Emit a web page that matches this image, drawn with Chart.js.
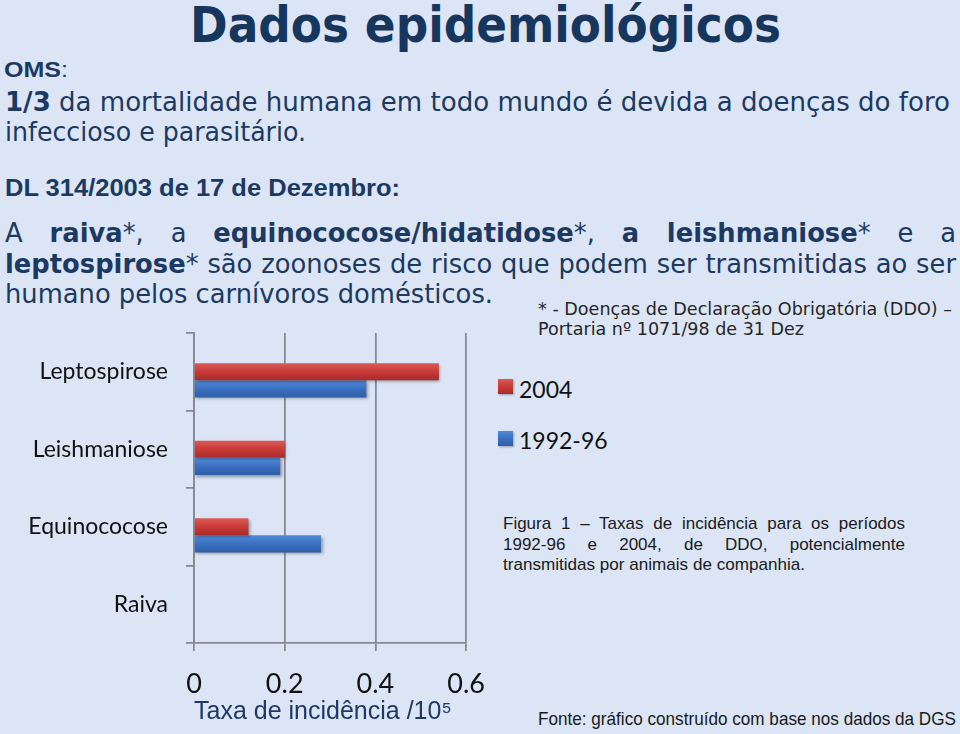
<!DOCTYPE html>
<html lang="pt">
<head>
<meta charset="utf-8">
<title>Dados epidemiológicos</title>
<script src="https://cdn.jsdelivr.net/npm/chart.js@4.4.1/dist/chart.umd.min.js"></script>
<style>
html,body{margin:0;padding:0}
body{width:960px;height:734px;background:#dbe5f5;position:relative;overflow:hidden;color:#1c3961}
.t{position:absolute;left:0;top:0;white-space:nowrap;line-height:1;transform-origin:0 0}
.dv{font-family:"DejaVu Sans",Verdana,sans-serif}
.ar{font-family:"Liberation Sans",Arial,sans-serif}
.j{white-space:normal;text-align:justify;text-align-last:justify}
#title{font-size:50px;font-weight:bold;color:#17365d}
.body26{font-size:26px}
.foot{font-size:17px;color:#262626}
.cap{font-size:17px;color:#1a1a1a}
.src{font-size:19px;color:#1a1a1a}
#chartBox{position:absolute;left:0;top:300px;width:502px;height:434px}
.lg-box{position:absolute;width:15px;height:15px;box-shadow:1px 1px 2px rgba(0,0,0,0.3)}
.lg-txt{position:absolute;font-family:Lato,sans-serif;font-size:23px;color:#111;line-height:1;white-space:nowrap}
</style>
</head>
<body>

<div id="title" class="t dv" data-x="190" data-b="42" data-w="591">Dados epidemiológicos</div>
<div class="t ar" style="font-size:22px" data-x="4" data-b="77" data-w="64"><b>OMS</b>:</div>
<div class="t dv body26" data-x="5" data-b="111" data-w="945"><b>1/3</b> da mortalidade humana em todo mundo é devida a doenças do foro</div>
<div class="t dv body26" data-x="5" data-b="141" data-w="301">infeccioso e parasitário.</div>
<div class="t ar" style="font-size:23px;font-weight:bold" data-x="5" data-b="196" data-w="395">DL 314/2003 de 17 de Dezembro:</div>
<div id="ref3" class="t dv body26" data-x="5" data-b="303" data-w="488">humano pelos carnívoros domésticos.</div>
<div class="t dv body26 j" data-x="5" data-b="242" data-w="951" data-j="1" data-sref="ref3">A <b>raiva</b>*, a <b>equinococose/hidatidose</b>*, <b>a leishmaniose</b>* e a</div>
<div class="t dv body26 j" data-x="5" data-b="273" data-w="951" data-j="1" data-sref="ref3"><b>leptospirose</b>* são zoonoses de risco que podem ser transmitidas ao ser</div>

<div class="t dv foot" data-x="538" data-b="315" data-w="414">* - Doenças de Declaração Obrigatória (DDO) –</div>
<div class="t dv foot" data-x="538" data-b="335" data-w="266">Portaria nº 1071/98 de 31 Dez</div>

<div class="t ar cap j" data-x="503" data-b="529" data-w="402" data-j="1">Figura 1 – Taxas de incidência para os períodos</div>
<div class="t ar cap j" data-x="503" data-b="550" data-w="402" data-j="1">1992-96 e 2004, de DDO, potencialmente</div>
<div class="t ar cap" data-x="503" data-b="570" data-w="302">transmitidas por animais de companhia.</div>

<div class="t ar src" data-x="538" data-b="725" data-w="418">Fonte: gráfico construído com base nos dados da DGS</div>

<div id="legend"></div>

<div id="chartBox"><canvas id="chart" width="502" height="434"></canvas></div>

<script>
// ---- data ----
const categories = ['Leptospirose', 'Leishmaniose', 'Equinococose', 'Raiva'];
const values2004 = [0.54, 0.20, 0.12, 0];
const values1992_96 = [0.38, 0.19, 0.28, 0];
const xTickValues = [0, 0.2, 0.4, 0.6];
const xTickLabels = ['0', '0.2', '0.4', '0.6'];
const seriesLabels = ['2004', '1992-96'];
const seriesColors = ['#c93a38', '#3b70c0'];
const seriesLight = ['#dc5a55', '#5089d6'];
const seriesDark = ['#a92b2b', '#2d5ea8'];
const axisTitle = 'Taxa de incidência /10\u2075';

// ---- text placement ----
function baselineOf(el){
  const m = document.createElement('span');
  m.style.cssText = 'display:inline-block;width:0;height:0;vertical-align:baseline';
  el.appendChild(m);
  const r = m.offsetTop;
  el.removeChild(m);
  return r;
}
function place(){
  const scales = {};
  document.querySelectorAll('.t').forEach(el => {
    const d = el.dataset;
    let s = 1;
    if (d.j) {
      s = d.sref ? scales[d.sref] : 1;
      el.style.width = (+d.w / s) + 'px';
    } else if (d.w) {
      const nat = el.getBoundingClientRect().width;
      s = +d.w / nat;
    }
    if (el.id) scales[el.id] = s;
    const bl = baselineOf(el);
    el.style.left = d.x + 'px';
    el.style.top = (+d.b - bl) + 'px';
    el.style.transform = 'scaleX(' + s + ')';
  });
}

// ---- legend (HTML, built from series arrays) ----
function buildLegend(){
  const lg = document.getElementById('legend');
  const boxTops = [379, 431];
  const baselines = [398, 449];
  seriesLabels.forEach((lab, i) => {
    const b = document.createElement('div');
    b.className = 'lg-box';
    b.style.left = '498px';
    b.style.top = boxTops[i] + 'px';
    b.style.background = 'linear-gradient(' + seriesLight[i] + ',' + seriesColors[i] + ' 50%,' + seriesDark[i] + ')';
    lg.appendChild(b);
    const t = document.createElement('div');
    t.className = 'lg-txt';
    t.textContent = lab;
    t.style.left = '519px';
    lg.appendChild(t);
    const bl = baselineOf(t);
    t.style.top = (baselines[i] - bl) + 'px';
  });
}

// ---- chart ----
const CAT_PCT = 0.667;
const barShadow = {
  id: 'barShadow',
  beforeDatasetsDraw(chart){
    const c = chart.ctx;
    c.save();
    c.shadowColor = 'rgba(0,0,0,0.35)';
    c.shadowBlur = 3;
    c.shadowOffsetX = 1.5;
    c.shadowOffsetY = 1.5;
  },
  afterDatasetsDraw(chart){ chart.ctx.restore(); }
};

// vertical shading of each bar, derived from the category scale
function barFill(series){
  return (context) => {
    const chart = context.chart;
    const y = chart.scales && chart.scales.y;
    if (!y || context.type !== 'data' || !y.height) return seriesColors[series];
    const nDs = chart.data.datasets.length;
    const slot = (y.height / categories.length) * CAT_PCT / nDs;
    const center = y.getPixelForValue(context.dataIndex);
    const top = center - slot * nDs / 2 + context.datasetIndex * slot;
    const g = chart.ctx.createLinearGradient(0, top, 0, top + slot);
    g.addColorStop(0, seriesLight[series]);
    g.addColorStop(0.5, seriesColors[series]);
    g.addColorStop(1, seriesDark[series]);
    return g;
  };
}

function buildChart(){
  const GRID = '#84898f';
  new Chart(document.getElementById('chart'), {
    type: 'bar',
    data: {
      labels: categories,
      datasets: [
        { label: '', data: categories.map(() => null), backgroundColor: 'rgba(0,0,0,0)' },
        { label: seriesLabels[0], data: values2004, backgroundColor: barFill(0) },
        { label: seriesLabels[1], data: values1992_96, backgroundColor: barFill(1) }
      ]
    },
    plugins: [barShadow],
    options: {
      indexAxis: 'y',
      responsive: false,
      animation: false,
      datasets: { bar: { categoryPercentage: CAT_PCT, barPercentage: 1 } },
      layout: { padding: { top: 33, right: 0, bottom: 0, left: 0 } },
      plugins: { legend: { display: false }, tooltip: { enabled: false } },
      scales: {
        x: {
          type: 'linear', min: 0, max: 0.6,
          afterBuildTicks: s => { s.ticks = xTickValues.map(v => ({ value: v })); },
          afterFit: s => { s.height = 91; },
          grid: { color: GRID, lineWidth: 1.75, tickLength: 8, drawTicks: true },
          border: { color: GRID, width: 1.75 },
          ticks: {
            font: { family: 'Lato', size: 27 }, color: '#111', padding: 17, maxRotation: 0,
            callback: (v) => { const i = xTickValues.indexOf(v); return i >= 0 ? xTickLabels[i] : ''; }
          },
          title: {
            display: true,
            align: 'start',
            text: axisTitle,
            font: { family: '"Liberation Sans", Arial, sans-serif', size: 25 },
            color: '#1f3864',
            padding: { top: 0, bottom: 7 }
          }
        },
        y: {
          afterFit: s => { s.width = 194; },
          grid: { offset: true, drawOnChartArea: false, color: GRID, lineWidth: 1.75, tickLength: 8 },
          border: { color: GRID, width: 1.75 },
          ticks: { font: { family: 'Lato', size: 23 }, color: '#111', padding: 18 }
        }
      }
    }
  });
}

(document.fonts ? document.fonts.ready : Promise.resolve()).then(() => {
  place();
  buildLegend();
  buildChart();
});
</script>
</body>
</html>
